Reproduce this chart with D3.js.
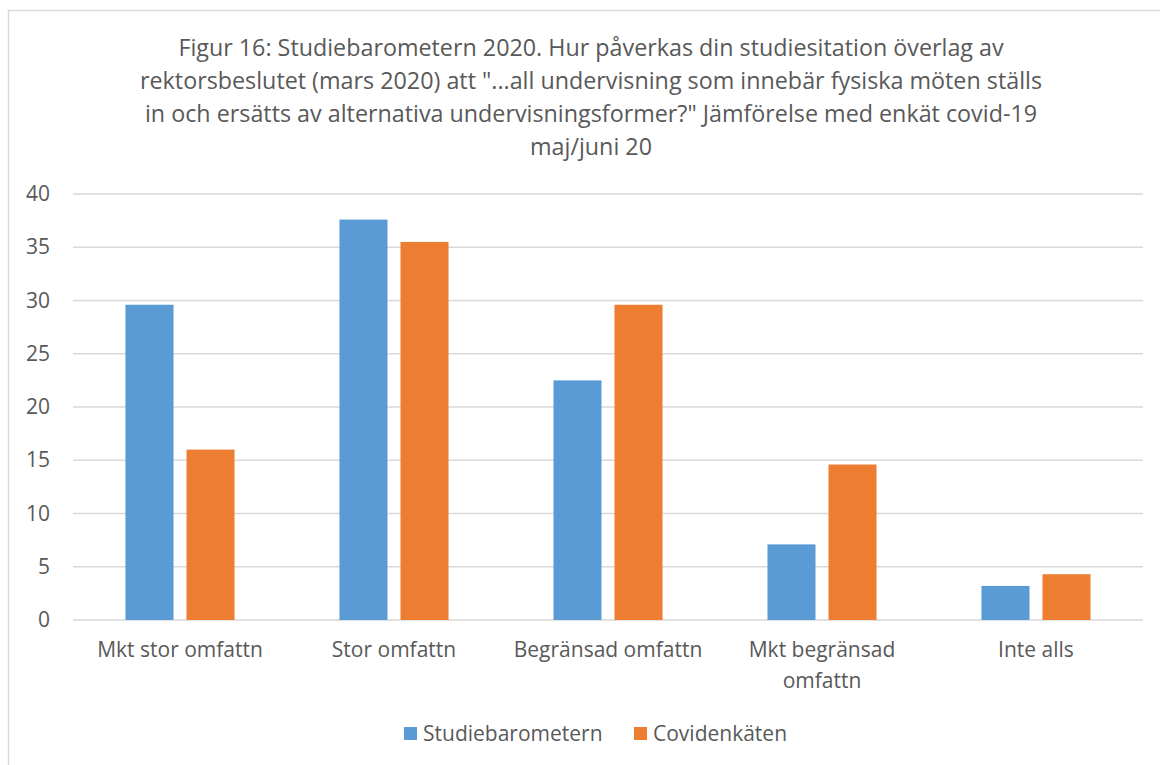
<!DOCTYPE html>
<html>
<head>
<meta charset="utf-8">
<script src="https://cdn.jsdelivr.net/npm/d3@7"></script>
<style>
  body { margin: 0; background: #fff; }
  svg text { font-family: "Open Sans", "Noto Sans", sans-serif; fill: #595959; }
</style>
</head>
<body>
<div id="chart"></div>
<script>
// chart data
var categories = ["Mkt stor omfattn", "Stor omfattn", "Begränsad omfattn", "Mkt begränsad omfattn", "Inte alls"];
var seriesNames = ["Studiebarometern", "Covidenkäten"];
var studiebarometern = [29.6, 37.6, 22.5, 7.1, 3.2];
var covidenkaten = [16.0, 35.5, 29.6, 14.6, 4.3];
var yTicks = [0, 5, 10, 15, 20, 25, 30, 35, 40];
var titleLines = [
  "Figur 16: Studiebarometern 2020. Hur påverkas din studiesitation överlag av",
  "rektorsbeslutet (mars 2020) att \"...all undervisning som innebär fysiska möten ställs",
  "in och ersätts av alternativa undervisningsformer?\" Jämförelse med enkät covid-19",
  "maj/juni 20"
];
var colors = ["#5b9bd5", "#ed7d31"];

var draw_chart = function() {
  var w = 1160;
  var h = 765;
  var plotLeft = 73, plotRight = 1143, plotTop = 194, plotBottom = 620;

  var svg = d3.select("#chart").append("svg")
    .attr("width", w)
    .attr("height", h);

  // outer frame
  svg.append("rect")
    .attr("x", 8.5).attr("y", 10.5)
    .attr("width", w).attr("height", h)
    .attr("fill", "none")
    .attr("stroke", "#d9d9d9")
    .attr("stroke-width", 1.5);

  // title
  svg.selectAll("text.title")
    .data(titleLines)
    .enter()
    .append("text")
    .attr("class", "title")
    .attr("x", 591)
    .attr("y", function(d, i) { return 56 + i * 33; })
    .attr("text-anchor", "middle")
    .style("font-size", "23.3px")
    .text(function(d) { return d; });

  var x0 = d3.scaleBand()
    .domain(categories)
    .range([plotLeft, plotRight]);

  var x1 = d3.scaleBand()
    .domain(seriesNames)
    .range([0, x0.bandwidth()])
    .paddingInner(0.213)
    .paddingOuter(0.86);

  var y = d3.scaleLinear()
    .domain([0, 40])
    .range([plotBottom, plotTop]);

  // gridlines
  svg.append("g")
    .selectAll("line")
    .data(yTicks)
    .enter()
    .append("line")
    .attr("x1", plotLeft)
    .attr("x2", plotRight)
    .attr("y1", function(d) { return y(d); })
    .attr("y2", function(d) { return y(d); })
    .attr("stroke", "#d9d9d9")
    .attr("stroke-width", 1.5);

  // y axis labels
  var yAxis = d3.axisLeft(y).tickValues(yTicks).tickSize(0).tickPadding(0);
  var yg = svg.append("g")
    .attr("transform", "translate(50,0)")
    .call(yAxis);
  yg.select(".domain").remove();
  yg.selectAll("text")
    .style("font-size", "21px")
    .style("font-family", "'Open Sans', 'Noto Sans', sans-serif")
    .attr("fill", "#595959");

  // bars
  var rows = categories.map(function(c, i) {
    return { cat: c, values: [studiebarometern[i], covidenkaten[i]] };
  });

  var groups = svg.selectAll("g.cat")
    .data(rows)
    .enter()
    .append("g")
    .attr("class", "cat")
    .attr("transform", function(d) { return "translate(" + x0(d.cat) + ",0)"; });

  groups.selectAll("rect")
    .data(function(d) { return d.values.map(function(v, j) { return { name: seriesNames[j], v: v, j: j }; }); })
    .enter()
    .append("rect")
    .attr("x", function(d) { return x1(d.name); })
    .attr("width", x1.bandwidth())
    .attr("y", function(d) { return y(d.v); })
    .attr("height", function(d) { return y(0) - y(d.v); })
    .attr("fill", function(d) { return colors[d.j]; });

  // category labels (long one wraps)
  var catLabels = {
    "Mkt begränsad omfattn": ["Mkt begränsad", "omfattn"]
  };
  categories.forEach(function(c) {
    var lines = catLabels[c] || [c];
    lines.forEach(function(line, k) {
      svg.append("text")
        .attr("x", x0(c) + x0.bandwidth() / 2)
        .attr("y", 657 + k * 31)
        .attr("text-anchor", "middle")
        .style("font-size", "21px")
        .text(line);
    });
  });

  // legend
  var legendX = [404, 634];
  var legend = svg.selectAll("g.legend")
    .data(seriesNames)
    .enter()
    .append("g")
    .attr("class", "legend")
    .attr("transform", function(d, i) { return "translate(" + legendX[i] + ",727)"; });
  legend.append("rect")
    .attr("width", 13).attr("height", 13)
    .attr("fill", function(d, i) { return colors[i]; });
  legend.append("text")
    .attr("x", 19)
    .attr("y", 14)
    .style("font-size", "21px")
    .text(function(d) { return d; });
}

draw_chart();
</script>
</body>
</html>
